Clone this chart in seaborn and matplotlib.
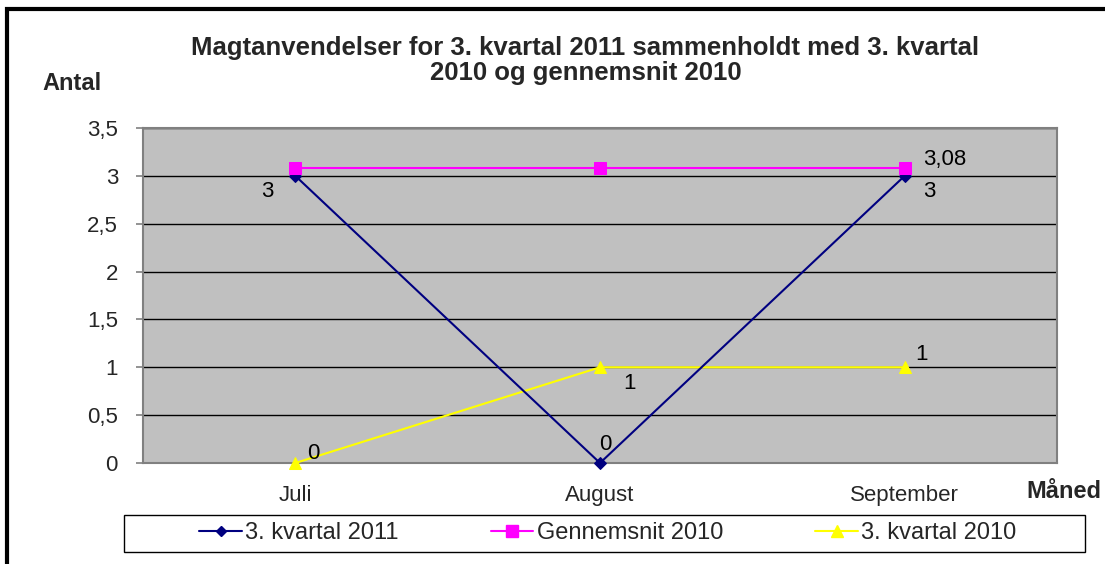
import matplotlib
matplotlib.use("Agg")
import matplotlib.pyplot as plt
import seaborn as sns
import pandas as pd
from matplotlib.patches import Rectangle
from matplotlib.lines import Line2D

months = ["Juli", "August", "September"]
kv2011 = [3, 0, 3]
gns2010 = [3.08, 3.08, 3.08]
kv2010 = [0, 1, 1]
series_names = ["3. kvartal 2011", "Gennemsnit 2010", "3. kvartal 2010"]
y_ticks = [0, 0.5, 1, 1.5, 2, 2.5, 3, 3.5]
y_tick_labels = ["0", "0,5", "1", "1,5", "2", "2,5", "3", "3,5"]

sns.set_style("white")
plt.rcParams['font.family'] = ['Liberation Sans', 'DejaVu Sans']

fig = plt.figure(figsize=(11.05, 5.64), dpi=100)
ax = fig.add_axes([143/1105, 1-463/564, 914/1105, 335/564])
ax.set_facecolor("#C0C0C0")

df = pd.DataFrame({"x": list(range(3)) * 3,
                   "y": kv2011 + gns2010 + kv2010,
                   "serie": [series_names[0]] * 3 + [series_names[1]] * 3 + [series_names[2]] * 3})
colors = {series_names[0]: "#000080", series_names[1]: "#FF00FF", series_names[2]: "#FFFF00"}
markers = {series_names[0]: "D", series_names[1]: "s", series_names[2]: "^"}
sizes = {series_names[0]: 6, series_names[1]: 9, series_names[2]: 9}

for s in [series_names[2], series_names[0], series_names[1]]:
    sub = df[df.serie == s]
    sns.lineplot(data=sub, x="x", y="y", color=colors[s], marker=markers[s],
                 markersize=sizes[s], markeredgecolor=colors[s], linewidth=1.5,
                 ax=ax, legend=False, zorder=3, clip_on=False)

ax.set_xlim(-0.5, 2.5)
ax.set_ylim(0, 3.5)
ax.set_yticks(y_ticks)
ax.set_yticklabels(y_tick_labels, fontsize=16)
ax.yaxis.grid(True, color="black", linewidth=1)
ax.set_axisbelow(True)
ax.set_xticks([0, 1, 2])
ax.set_xticklabels(months, fontsize=16)
ax.set_xticks([-0.5, 0.5, 1.5, 2.5], minor=True)
ax.tick_params(axis="x", which="major", length=0, pad=16)
ax.tick_params(axis="x", which="minor", length=5, color="#808080", direction="out", width=1.2)
ax.tick_params(axis="y", length=5, color="#808080", direction="out", left=True, pad=13, width=1.2)
ax.set_xlabel("")
ax.set_ylabel("")
for sp in ax.spines.values():
    sp.set_color("#808080")
    sp.set_linewidth(1.5)

# data labels
lab = dict(fontsize=16, color="black", ha="center", va="center", textcoords="offset points")
ax.annotate("3", (0, kv2011[0]), xytext=(-20, -11), **lab)
ax.annotate("0", (1, kv2011[1]), xytext=(4, 13), **lab)
ax.annotate("3", (2, kv2011[2]), xytext=(18, -11.5), **lab)
ax.annotate("3,08", (2, gns2010[2]), xytext=(29, 6), **lab)
ax.annotate("0", (0, kv2010[0]), xytext=(13, 7), **lab)
ax.annotate("1", (1, kv2010[1]), xytext=(21, -11.5), **lab)
ax.annotate("1", (2, kv2010[2]), xytext=(12, 9), **lab)

fig.text(585/1105, 1-48/564, "Magtanvendelser for 3. kvartal 2011 sammenholdt med 3. kvartal",
         ha="center", va="center", fontsize=18.5, fontweight="bold")
fig.text(586/1105, 1-73/564, "2010 og gennemsnit 2010",
         ha="center", va="center", fontsize=18.5, fontweight="bold")
fig.text(42/1105, 1-83/564, "Antal", ha="left", va="center", fontsize=17, fontweight="bold")
fig.text(1101/1105, 1-491/564, "Måned", ha="right", va="center", fontsize=17, fontweight="bold")

# legend box
fig.patches.append(Rectangle((124/1105, 1-552/564), 961/1105, 37/564, transform=fig.transFigure,
                             fill=True, facecolor="white", edgecolor="black", linewidth=1))
handles = [Line2D([], [], color=colors[s], marker=markers[s], markersize=sizes[s] - 1,
                  markeredgecolor=colors[s], linewidth=1.5) for s in series_names]
leg = fig.legend(handles, series_names, ncol=3, loc="center",
                 bbox_to_anchor=(608/1105, 1-533/564), frameon=False,
                 handlelength=1.8, handletextpad=0.15, columnspacing=3.9,
                 prop={'family': ['Liberation Sans', 'DejaVu Sans'], 'size': 17})

# outer border
fig.patches.append(Rectangle((7/1105, -0.1), 1.2, 1 - 9/564 + 0.1, transform=fig.transFigure,
                             fill=False, edgecolor="black", linewidth=3))

fig.savefig("out.png", dpi=100)
